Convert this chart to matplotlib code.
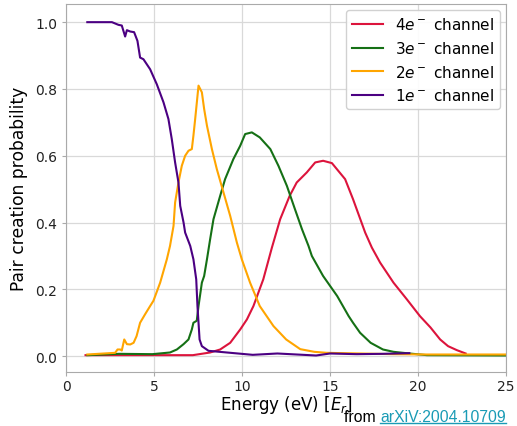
import numpy as np
import matplotlib
matplotlib.use('Agg')
import matplotlib.pyplot as plt
from matplotlib.lines import Line2D

# 1e- channel
e1 = [1.2, 2.6, 2.97, 3.16, 3.35, 3.45, 3.64, 3.86, 4.05, 4.2, 4.39, 4.77, 5.15, 5.53,
      5.81, 6.0, 6.19, 6.38, 6.48, 6.67, 6.76, 7.05, 7.14, 7.23, 7.39, 7.46, 7.58, 7.71,
      8.09, 9.13, 10.6, 12.0, 13.1, 14.2, 15.0, 16.5, 18.0, 19.5]
p1 = [1.0, 1.0, 0.992, 0.99, 0.957, 0.976, 0.972, 0.97, 0.944, 0.894, 0.889, 0.859, 0.814, 0.76,
      0.71, 0.65, 0.58, 0.52, 0.45, 0.40, 0.37, 0.33, 0.31, 0.29, 0.23, 0.15, 0.05, 0.03,
      0.016, 0.011, 0.004, 0.008, 0.005, 0.002, 0.008, 0.006, 0.007, 0.009]

# 2e- channel
e2 = [1.2, 2.78, 2.92, 3.07, 3.16, 3.3, 3.45, 3.64, 3.83, 4.0, 4.2, 4.49, 4.77, 4.96, 5.34,
      5.72, 5.9, 6.1, 6.19, 6.38, 6.57, 6.76, 6.95, 7.14, 7.23, 7.33, 7.52, 7.71, 7.84, 8.0,
      8.28, 8.56, 8.94, 9.32, 9.7, 9.98, 10.45, 11.0, 11.78, 12.5, 13.3, 14.1, 14.8, 16.7,
      18.6, 20.5, 25.0]
p2 = [0.005, 0.01, 0.02, 0.02, 0.017, 0.05, 0.036, 0.035, 0.04, 0.06, 0.10, 0.126, 0.15, 0.166, 0.22,
      0.29, 0.33, 0.39, 0.46, 0.52, 0.57, 0.60, 0.615, 0.62, 0.66, 0.71, 0.81, 0.79, 0.74, 0.69,
      0.62, 0.56, 0.49, 0.42, 0.34, 0.29, 0.22, 0.15, 0.09, 0.05, 0.021, 0.013, 0.01, 0.008,
      0.006, 0.005, 0.005]

# 3e- channel
e3 = [1.2, 3.0, 4.9, 5.9, 6.29, 6.67, 6.95, 7.14, 7.23, 7.42, 7.52, 7.71, 7.84, 8.0, 8.18,
      8.37, 8.75, 9.03, 9.5, 9.89, 10.17, 10.55, 11.0, 11.6, 12.06, 12.54, 13.0, 13.4, 13.77,
      13.96, 14.6, 15.4, 16.05, 16.3, 16.7, 17.3, 18.0, 18.6, 19.5, 20.5, 25.0]
p3 = [0.003, 0.007, 0.006, 0.011, 0.02, 0.036, 0.05, 0.08, 0.10, 0.106, 0.15, 0.22, 0.24, 0.29, 0.35,
      0.41, 0.48, 0.53, 0.59, 0.63, 0.665, 0.67, 0.655, 0.62, 0.57, 0.51, 0.44, 0.38, 0.33,
      0.30, 0.24, 0.18, 0.12, 0.10, 0.07, 0.04, 0.02, 0.013, 0.008, 0.003, 0.002]

# 4e- channel
e4 = [1.1, 4.0, 7.2, 8.18, 8.75, 9.32, 9.89, 10.27, 10.64, 11.2, 11.69, 12.16, 12.7, 13.1,
      13.67, 14.15, 14.6, 15.1, 15.85, 16.3, 16.99, 17.37, 17.84, 18.6, 19.36, 20.1, 20.7,
      21.25, 21.7, 22.2, 22.7]
p4 = [0.003, 0.003, 0.003, 0.011, 0.02, 0.04, 0.08, 0.11, 0.15, 0.23, 0.325, 0.41, 0.48, 0.52,
      0.55, 0.58, 0.585, 0.578, 0.53, 0.47, 0.37, 0.325, 0.28, 0.22, 0.17, 0.12, 0.086,
      0.05, 0.03, 0.018, 0.008]

fig = plt.figure(figsize=(5.17, 4.27), dpi=100)
ax = fig.add_axes([0.128, 0.126, 0.851, 0.862])

ax.plot(e4, p4, color='crimson', lw=1.5, label='$4e^-$ channel')
ax.plot(e3, p3, color='#157015', lw=1.5, label='$3e^-$ channel')
ax.plot(e2, p2, color='orange', lw=1.5, label='$2e^-$ channel')
ax.plot(e1, p1, color='indigo', lw=1.5, label='$1e^-$ channel')

ax.set_xlim(0, 25)
ax.set_ylim(-0.048, 1.054)
ax.set_xticks([0, 5, 10, 15, 20, 25])
ax.set_yticks([0.0, 0.2, 0.4, 0.6, 0.8, 1.0])
ax.grid(color='#d9d9d9', lw=0.9)
ax.set_axisbelow(True)
for s in ax.spines.values():
    s.set_color('#aaaaaa')
ax.tick_params(labelsize=10, colors='#222222', length=3, color='#aaaaaa')
ax.tick_params(axis='x', pad=2)
ax.set_xlabel('Energy (eV) [$E_r$]', fontsize=12, labelpad=0)
ax.set_ylabel('Pair creation probability', fontsize=12.3, labelpad=5)
ax.legend(loc='upper right', fontsize=11, framealpha=0.9, edgecolor='#cccccc',
          handlelength=2.0, borderaxespad=0.4)

# source note
t2 = fig.text(0.979, 0.004, 'arXiV:2004.10709', ha='right', va='bottom',
              fontsize=11.3, family='Liberation Sans', color='#1a9bb5')
fig.canvas.draw()
r = fig.canvas.get_renderer()
bb = t2.get_window_extent(r).transformed(fig.transFigure.inverted())
fig.text(bb.x0, 0.004, 'from ', ha='right', va='bottom', fontsize=11.3,
         family='Liberation Sans', color='black')
fig.add_artist(Line2D([bb.x0, bb.x1], [bb.y0 + 0.003, bb.y0 + 0.003],
                      transform=fig.transFigure, color='#1a9bb5', lw=1))

fig.savefig('out.png', dpi=100)
